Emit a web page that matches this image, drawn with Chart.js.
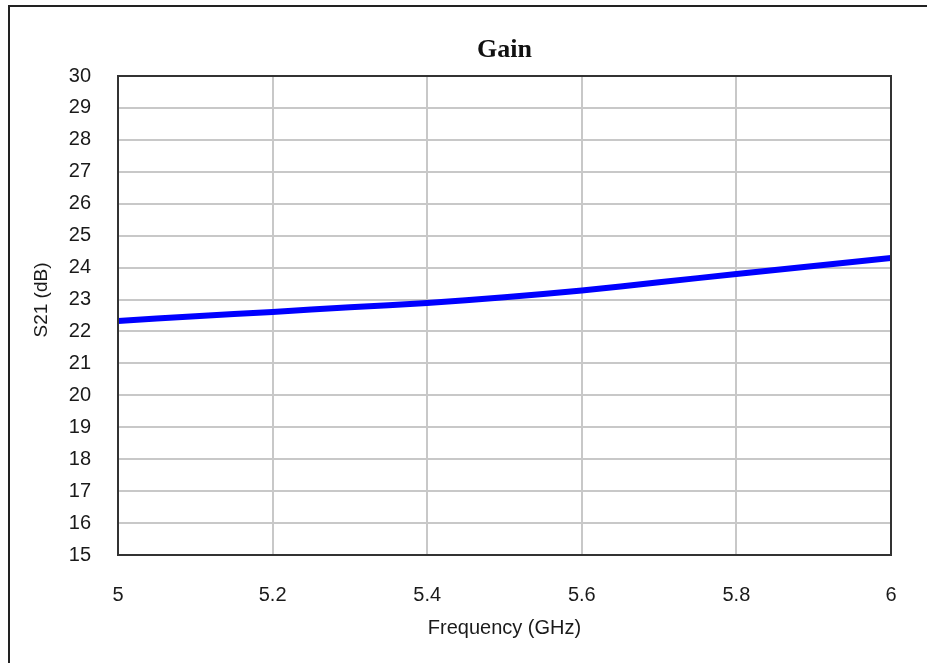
<!DOCTYPE html>
<html>
<head>
<meta charset="utf-8">
<script src="https://cdn.jsdelivr.net/npm/chart.js@4.4.0/dist/chart.umd.min.js"></script>
<style>
  html, body { margin: 0; padding: 0; background: #fff; }
  #wrap { width: 927px; height: 663px; }
</style>
</head>
<body>
<div id="wrap"><canvas id="gainChart" width="927" height="663"></canvas></div>
<script>
// Gain (S21) vs frequency
const freqGHz = [5.0, 5.1, 5.2, 5.3, 5.4, 5.5, 5.6, 5.7, 5.8, 5.9, 6.0];
const s21dB = [22.33, 22.48, 22.61, 22.76, 22.89, 23.07, 23.28, 23.54, 23.80, 24.05, 24.30];
const xTicks = [5, 5.2, 5.4, 5.6, 5.8, 6];
const yTicks = [15, 16, 17, 18, 19, 20, 21, 22, 23, 24, 25, 26, 27, 28, 29, 30];

const labelFont = { family: 'Liberation Sans, Arial, sans-serif', size: 20 };

// frame around the figure, the plot box and the titles
const framePlugin = {
  id: 'frames',
  beforeDraw(chart) {
    const ctx = chart.ctx;
    ctx.save();
    ctx.strokeStyle = '#222';
    ctx.lineWidth = 2;
    ctx.beginPath();
    ctx.moveTo(9, 663);
    ctx.lineTo(9, 6);
    ctx.lineTo(940, 6);
    ctx.stroke();
    ctx.restore();
  },
  afterDraw(chart) {
    const a = chart.chartArea;
    const ctx = chart.ctx;
    ctx.save();
    ctx.strokeStyle = '#333';
    ctx.lineWidth = 2;
    ctx.strokeRect(a.left, a.top, a.right - a.left, a.bottom - a.top);

    // chart title, centred on the plot area
    ctx.fillStyle = '#111';
    ctx.textAlign = 'center';
    ctx.textBaseline = 'middle';
    ctx.font = 'bold 26px "Liberation Serif", "Times New Roman", serif';
    ctx.fillText('Gain', (a.left + a.right) / 2, 50);

    // y axis title
    ctx.fillStyle = '#1a1a1a';
    ctx.font = '19px "Liberation Sans", Arial, sans-serif';
    ctx.translate(42, 300);
    ctx.rotate(-Math.PI / 2);
    ctx.fillText('S21 (dB)', 0, 0);
    ctx.restore();
  }
};

function initGainChart() {
  const ctx = document.getElementById('gainChart').getContext('2d');
  new Chart(ctx, {
    type: 'line',
    data: {
      datasets: [{
        label: 'S21',
        data: freqGHz.map((f, i) => ({ x: f, y: s21dB[i] })),
        borderColor: '#0000ff',
        borderWidth: 6,
        pointRadius: 0,
        tension: 0.3,
        fill: false
      }]
    },
    options: {
      responsive: false,
      animation: false,
      devicePixelRatio: 1,
      layout: { padding: { left: 0, right: 36, top: 76, bottom: 0 } },
      plugins: {
        legend: { display: false },
        tooltip: { enabled: false },
        title: { display: false }
      },
      scales: {
        x: {
          type: 'linear',
          min: 5, max: 6,
          afterBuildTicks: (s) => { s.ticks = xTicks.map(v => ({ value: v })); },
          afterFit: (s) => { s.height = 108; },
          grid: { color: '#c8c8c8', lineWidth: 2, drawTicks: false },
          border: { display: false },
          ticks: { color: '#1a1a1a', font: labelFont, padding: 28, maxRotation: 0,
            callback: (v) => String(v) },
          title: { display: true, text: 'Frequency (GHz)', color: '#1a1a1a',
            font: { family: 'Liberation Sans, Arial, sans-serif', size: 20 }, padding: { top: 23, bottom: 23 } }
        },
        y: {
          type: 'linear',
          min: 15, max: 30,
          afterBuildTicks: (s) => { s.ticks = yTicks.map(v => ({ value: v })); },
          afterFit: (s) => { s.width = 118; },
          grid: { color: '#c8c8c8', lineWidth: 2, drawTicks: false },
          border: { display: false },
          ticks: { color: '#1a1a1a', font: labelFont, padding: 27 }
        }
      }
    },
    plugins: [framePlugin]
  });
}

initGainChart();
</script>
</body>
</html>
